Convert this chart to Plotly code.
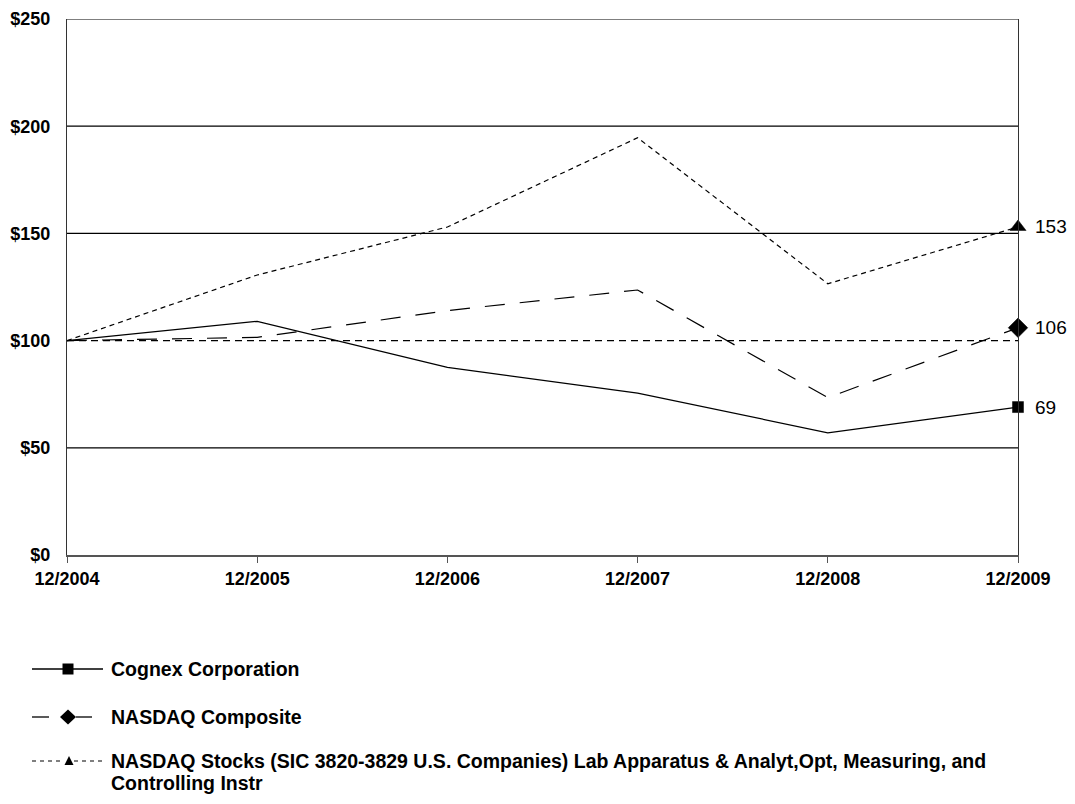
import plotly.graph_objects as go

periods = ["12/2004", "12/2005", "12/2006", "12/2007", "12/2008", "12/2009"]
cognex = [100, 109, 87.5, 75.5, 57, 69]
nasdaq_comp = [100, 101.5, 114, 123.6, 73.4, 106]
lab_app = [100, 130.6, 153, 194.6, 126.5, 153]

series_names = [
    "Cognex Corporation",
    "NASDAQ Composite",
    "NASDAQ Stocks (SIC 3820-3829 U.S. Companies) Lab Apparatus & Analyt,Opt, Measuring, and",
]
series_name_cont = "Controlling Instr"
y_ticks = [0, 50, 100, 150, 200, 250]
y_tick_text = ["$0", "$50", "$100", "$150", "$200", "$250"]

OFF = 8  # page body margin
W, H = 1075 - 2 * OFF, 804 - 2 * OFF
L = 67 - OFF
T = 19 - OFF
R = W - (1018 - OFF)
B = H - (555 - OFF)
pw, ph = W - L - R, H - T - B


def px(p):
    return (p - OFF - L) / pw


def py(p):
    return 1 - (p - OFF - T) / ph


fig = go.Figure()

series = [
    (cognex, "solid", "square", 11),
    (nasdaq_comp, "20px,15px", "diamond", 15),
    (lab_app, "5px,4px", "triangle-up", 14),
]
xs = list(range(len(periods)))
for vals, dash, sym, ms in series:
    sizes = [0] * (len(vals) - 1) + [ms]
    fig.add_trace(go.Scatter(
        x=xs, y=vals, mode="lines+markers",
        line=dict(color="black", width=1.2, dash=dash),
        marker=dict(symbol=sym, size=sizes, color="black", opacity=1,
                    line=dict(width=0.5, color="black")),
        cliponaxis=False, showlegend=False, hoverinfo="skip"))
    fig.add_annotation(x=xs[-1], y=vals[-1], xref="x", yref="y",
                       text=str(round(vals[-1])), showarrow=False,
                       xanchor="left", xshift=16, yshift=0, borderpad=0,
                       font=dict(family="Liberation Sans, Arial", size=19, color="black"))

shapes = []
for v in y_ticks[1:]:
    shapes.append(dict(type="line", xref="paper", yref="y", x0=0, x1=1, y0=v, y1=v,
                       line=dict(color="black", width=1.2,
                                 dash="7px,5px" if v == 100 else "solid"),
                       layer="below"))

line_style = dict(color="black", width=1.3)
# legend row 1: solid line with square
r1 = 669
shapes.append(dict(type="line", xref="paper", yref="paper",
                   x0=px(32), x1=px(103), y0=py(r1), y1=py(r1), line=line_style))
shapes.append(dict(type="rect", xref="paper", yref="paper",
                   x0=px(62.5), x1=px(73.5), y0=py(r1 + 5.5), y1=py(r1 - 5.5),
                   fillcolor="black", line=dict(width=0)))
# legend row 2: segments with diamond
r2 = 717
shapes.append(dict(type="line", xref="paper", yref="paper",
                   x0=px(32), x1=px(49), y0=py(r2), y1=py(r2), line=line_style))
shapes.append(dict(type="line", xref="paper", yref="paper",
                   x0=px(76), x1=px(92), y0=py(r2), y1=py(r2), line=line_style))
shapes.append(dict(type="path", xref="paper", yref="paper",
                   path="M %f %f L %f %f L %f %f L %f %f Z" % (
                       px(60), py(r2), px(68), py(r2 - 7.5), px(76), py(r2), px(68), py(r2 + 7.5)),
                   fillcolor="black", line=dict(width=0)))
# legend row 3: dashed with triangle
r3 = 761
shapes.append(dict(type="line", xref="paper", yref="paper",
                   x0=px(32), x1=px(64), y0=py(r3), y1=py(r3),
                   line=dict(color="black", width=1.1, dash="4px,4px")))
shapes.append(dict(type="line", xref="paper", yref="paper",
                   x0=px(74), x1=px(103), y0=py(r3), y1=py(r3),
                   line=dict(color="black", width=1.1, dash="4px,4px")))
shapes.append(dict(type="path", xref="paper", yref="paper",
                   path="M %f %f L %f %f L %f %f Z" % (
                       px(64.5), py(r3 + 4), px(69), py(r3 - 5), px(73.5), py(r3 + 4)),
                   fillcolor="black", line=dict(width=0)))

leg_font = dict(family="Liberation Sans, Arial", size=19.5, color="black")
for i, yy in enumerate([r1, r2, r3]):
    fig.add_annotation(xref="paper", yref="paper", x=px(110), y=py(yy),
                       text="<b>" + series_names[i] + "</b>", showarrow=False,
                       xanchor="left", yanchor="middle", align="left",
                       font=leg_font, borderpad=0)
fig.add_annotation(xref="paper", yref="paper", x=px(110), y=py(r3 + 22),
                   text="<b>" + series_name_cont + "</b>", showarrow=False,
                   xanchor="left", yanchor="middle", align="left",
                   font=leg_font, borderpad=0)

tick_font = dict(family="Liberation Sans, Arial", size=18, color="black")
fig.update_layout(
    width=W, height=H,
    margin=dict(l=L, r=R, t=T, b=B, autoexpand=False),
    plot_bgcolor="white", paper_bgcolor="white",
    shapes=shapes,
    xaxis=dict(range=[0, len(periods) - 1], tickvals=xs,
               ticktext=["<b>%s</b>" % p for p in periods],
               showgrid=False, zeroline=False, showline=True, linecolor="#555", linewidth=2,
               ticks="outside", ticklen=6, tickcolor="#555", tickwidth=1,
               tickfont=tick_font, automargin=False),
    yaxis=dict(range=[0, 250], tickvals=y_ticks,
               ticktext=["<b>%s</b>" % t for t in y_tick_text],
               showgrid=False, zeroline=False, showline=True, linecolor="#333", linewidth=1.2,
               ticks="", ticklabelstandoff=12, automargin=False,
               tickfont=tick_font, mirror=True),
    showlegend=False,
)

fig.write_html("out.html")
